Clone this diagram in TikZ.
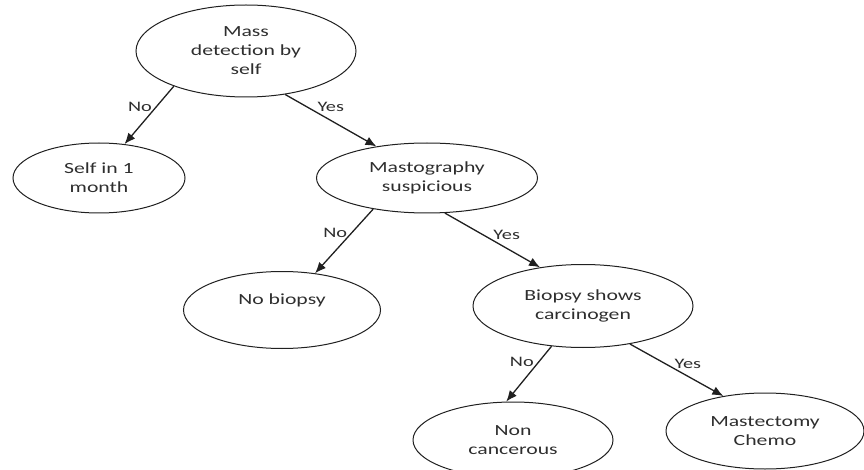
\documentclass[tikz,border=0pt]{standalone}
\usepackage{fontspec}
\setmainfont{Carlito}[FakeStretch=1.4]
\usepackage{tikz}
\usetikzlibrary{shapes,arrows.meta}
\definecolor{ink}{HTML}{202020}
\definecolor{txt}{HTML}{2E2E2E}
\tikzstyle{state} = [draw=ink, ellipse, line width=1pt, inner sep=0pt, align=center, text=txt, font=\fontsize{15.5}{19}\selectfont]
\tikzstyle{arrow} = [draw=ink, line width=1.3pt, -{Latex[length=11pt,width=9pt]}]
\tikzstyle{lbl} = [text=txt, inner sep=2pt, font=\fontsize{14.5}{17}\selectfont]

\begin{document}
\begin{tikzpicture}[x=1pt, y=-1pt]
    \useasboundingbox (0,0) rectangle (864,470);

        % Define nodes (one ellipse per question or outcome)
        \node[state, minimum width=220pt, minimum height=92pt] (mass) at (246,51) {Mass\\detection by\\self};
        \node[state, minimum width=172pt, minimum height=70pt] (self) at (99,178) {Self in 1\\month};
        \node[state, minimum width=221pt, minimum height=70pt] (mast) at (427,178) {Mastography\\suspicious};
        \node[state, minimum width=197pt, minimum height=77pt, label={[lbl, font=\fontsize{15.5}{19}\selectfont, yshift=10pt]center:No biopsy}] (nobiopsy) at (282,310) {};
        \node[state, minimum width=220pt, minimum height=83pt] (biopsy) at (583,306) {Biopsy shows\\carcinogen};
        \node[state, minimum width=200pt, minimum height=76pt] (noncanc) at (513,440) {Non\\cancerous};
        \node[state, minimum width=198pt, minimum height=76pt] (mastect) at (765,431) {Mastectomy\\Chemo};

        % Draw the yes/no arrows
        \draw[arrow] (mass.206) -- node[lbl, pos=.35, left=2pt] {No} (self.53);
        \draw[arrow] (mass.312) -- node[lbl, pos=.5, above=6pt] {Yes} (mast.148);

        \draw[arrow] (mast.210) -- node[lbl, pos=.37, left=2pt] {No} (nobiopsy.48);
        \draw[arrow] (mast.297) -- node[lbl, pos=.65, above=6pt] {Yes} (biopsy.138);

        \draw[arrow] (biopsy.232) -- node[lbl, pos=.29, left=2pt] {No} (noncanc.100);
        \draw[arrow] (biopsy.321) -- node[lbl, pos=.62, above=5pt] {Yes} (mastect.140);

    \end{tikzpicture}
\end{document}
